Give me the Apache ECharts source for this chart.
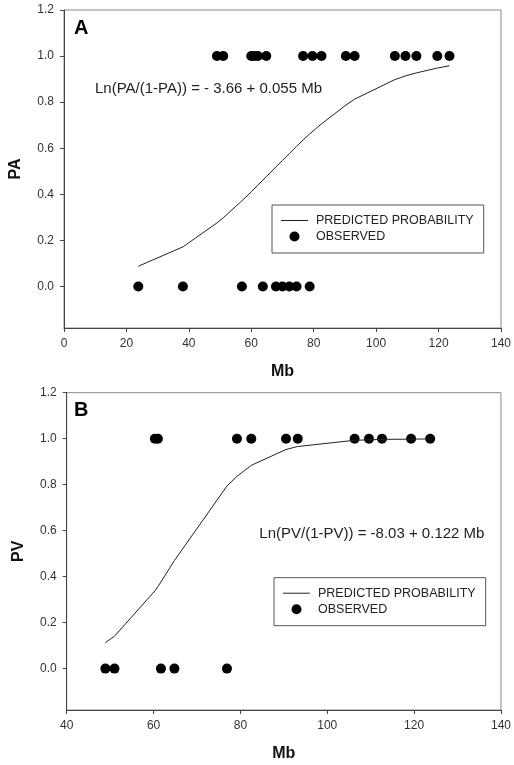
<!DOCTYPE html>
<html>
<head>
<meta charset="utf-8">
<script src="https://cdn.jsdelivr.net/npm/echarts@6/dist/echarts.min.js"></script>
<style>
  html, body { margin: 0; padding: 0; background: #fff; }
  #chart { width: 514px; height: 765px; }
</style>
</head>
<body>
<div id="chart"></div>
<script>
// panel A - observed Mb values (PA = 1 and PA = 0)
const obsA1 = [49, 51, 60, 61, 62.1, 64.8, 76.6, 79.6, 82.5, 90.3, 93.1, 106, 109.4, 112.9, 119.6, 123.5];
const obsA0 = [23.8, 38.1, 57, 63.7, 67.9, 70, 72.2, 74.5, 78.7];
// panel A - predicted probability curve
const predAx = [23.8, 38.1, 49, 51, 57, 60, 62.1, 64.8, 67.9, 70, 72.2, 74.5, 76.6, 78.7, 82.5, 90.3, 93.1, 106, 109.4, 112.9, 119.6, 123.5];
const predAy = [0.088, 0.172, 0.276, 0.298, 0.372, 0.411, 0.440, 0.476, 0.519, 0.547, 0.577, 0.608, 0.636, 0.662, 0.706, 0.787, 0.813, 0.898, 0.914, 0.927, 0.948, 0.958];

// panel B - observed Mb values (PV = 1 and PV = 0)
const obsB1 = [60.3, 61, 79.2, 82.5, 90.5, 93.2, 106.3, 109.6, 112.6, 119.3, 123.7];
const obsB0 = [48.9, 51, 61.7, 64.8, 76.9];
// panel B - predicted probability curve
const predBx = [48.9, 51, 60.3, 61, 61.7, 64.8, 76.9, 79.2, 82.5, 90.5, 93.2, 106.3, 109.6, 112.6, 119.3, 123.7];
const predBy = [0.113, 0.141, 0.338, 0.357, 0.377, 0.470, 0.794, 0.836, 0.884, 0.953, 0.966, 0.993, 0.995, 0.997, 0.998, 0.999];

const yTicks = [0, 0.2, 0.4, 0.6, 0.8, 1.0, 1.2];
const legendNames = ["PREDICTED PROBABILITY", "OBSERVED"];
const eqA = "Ln(PA/(1-PA)) = - 3.66 + 0.055 Mb";
const eqB = "Ln(PV/(1-PV)) = -8.03 + 0.122 Mb";

const FONT = "Liberation Sans, Arial, sans-serif";
const zip = (xs, ys) => xs.map((x, i) => [x, ys[i]]);
const at = (xs, y) => xs.map(x => [x, y]);

const chart = echarts.init(document.getElementById("chart"), null, { renderer: "canvas" });

const xAxisBase = {
  type: "value",
  interval: 20,
  name: "Mb",
  nameLocation: "middle",
  nameGap: 36,
  nameTextStyle: { fontFamily: FONT, fontSize: 16, fontWeight: "bold", color: "#111" },
  axisLine: { onZero: false, lineStyle: { color: "#444", width: 1 } },
  axisTick: { length: 4, lineStyle: { color: "#444" } },
  axisLabel: { fontFamily: FONT, fontSize: 12, color: "#333", margin: 10 },
  splitLine: { show: false }
};
const yAxisBase = {
  type: "value",
  min: -0.18,
  max: 1.2,
  nameLocation: "middle",
  nameGap: 40,
  nameTextStyle: { fontFamily: FONT, fontSize: 16, fontWeight: "bold", color: "#111" },
  axisLine: { show: true, onZero: false, lineStyle: { color: "#444", width: 1 } },
  axisTick: { show: true, length: 4, customValues: yTicks, lineStyle: { color: "#444" } },
  axisLabel: {
    fontFamily: FONT, fontSize: 12, color: "#333", margin: 10,
    customValues: yTicks,
    formatter: v => v.toFixed(1)
  },
  splitLine: { show: false }
};

// thin horizontal bar inside a 27x10 box, used as the line legend icon
const lineIcon = "path://M0,0M27,10M0,4.5L27,4.5L27,5.5L0,5.5Z";

const legendBase = {
  orient: "vertical",
  data: [
    { name: legendNames[0], icon: lineIcon, itemStyle: { color: "#222", borderWidth: 0 } },
    { name: legendNames[1], icon: "circle", itemStyle: { color: "#000", borderWidth: 0 } }
  ],
  itemWidth: 27,
  itemHeight: 10,
  itemGap: 3,
  padding: [9, 10, 10, 9],
  borderColor: "#555",
  borderWidth: 1,
  textStyle: { fontFamily: FONT, fontSize: 12.5, color: "#222", padding: [0, 0, 0, 3] },
  selectedMode: false
};

const lineStyle = { color: "#222", width: 1 };
const dotStyle = { color: "#000", opacity: 1 };

chart.setOption({
  backgroundColor: "#fff",
  animation: false,
  grid: [
    { left: 63, top: 10, width: 441, height: 318, show: true, borderColor: "#888", borderWidth: 1, backgroundColor: "transparent" },
    { left: 66.7, top: 392.7, width: 440.6, height: 317.3, show: true, borderColor: "#888", borderWidth: 1, backgroundColor: "transparent" }
  ],
  xAxis: [
    Object.assign({}, xAxisBase, { gridIndex: 0, min: 0, max: 140 }),
    Object.assign({}, xAxisBase, { gridIndex: 1, min: 40, max: 140 })
  ],
  yAxis: [
    Object.assign({}, yAxisBase, { gridIndex: 0, name: "PA" }),
    Object.assign({}, yAxisBase, { gridIndex: 1, name: "PV" })
  ],
  legend: [
    Object.assign({}, legendBase, { left: 272, top: 205 }),
    Object.assign({}, legendBase, { left: 274, top: 577.7 })
  ],
  graphic: [
    { type: "text", x: 74, y: 28, style: { text: "A", font: "bold 20px " + FONT, fill: "#000", verticalAlign: "middle" } },
    { type: "text", x: 74, y: 410, style: { text: "B", font: "bold 20px " + FONT, fill: "#000", verticalAlign: "middle" } },
    { type: "text", x: 95, y: 89.3, style: { text: eqA, font: "15px " + FONT, fill: "#222", verticalAlign: "middle" } },
    { type: "text", x: 259.3, y: 534.3, style: { text: eqB, font: "15px " + FONT, fill: "#222", verticalAlign: "middle" } }
  ],
  series: [
    {
      name: legendNames[0], type: "line", xAxisIndex: 0, yAxisIndex: 0,
      data: zip(predAx, predAy), symbol: "none", lineStyle: lineStyle, itemStyle: { color: "#222" }
    },
    {
      name: legendNames[1], type: "scatter", xAxisIndex: 0, yAxisIndex: 0,
      data: at(obsA1, 1).concat(at(obsA0, 0)), symbol: "circle", symbolSize: 10, itemStyle: dotStyle
    },
    {
      name: legendNames[0], type: "line", xAxisIndex: 1, yAxisIndex: 1,
      data: zip(predBx, predBy), symbol: "none", lineStyle: lineStyle, itemStyle: { color: "#222" }
    },
    {
      name: legendNames[1], type: "scatter", xAxisIndex: 1, yAxisIndex: 1,
      data: at(obsB1, 1).concat(at(obsB0, 0)), symbol: "circle", symbolSize: 10, itemStyle: dotStyle
    }
  ]
});
</script>
</body>
</html>
